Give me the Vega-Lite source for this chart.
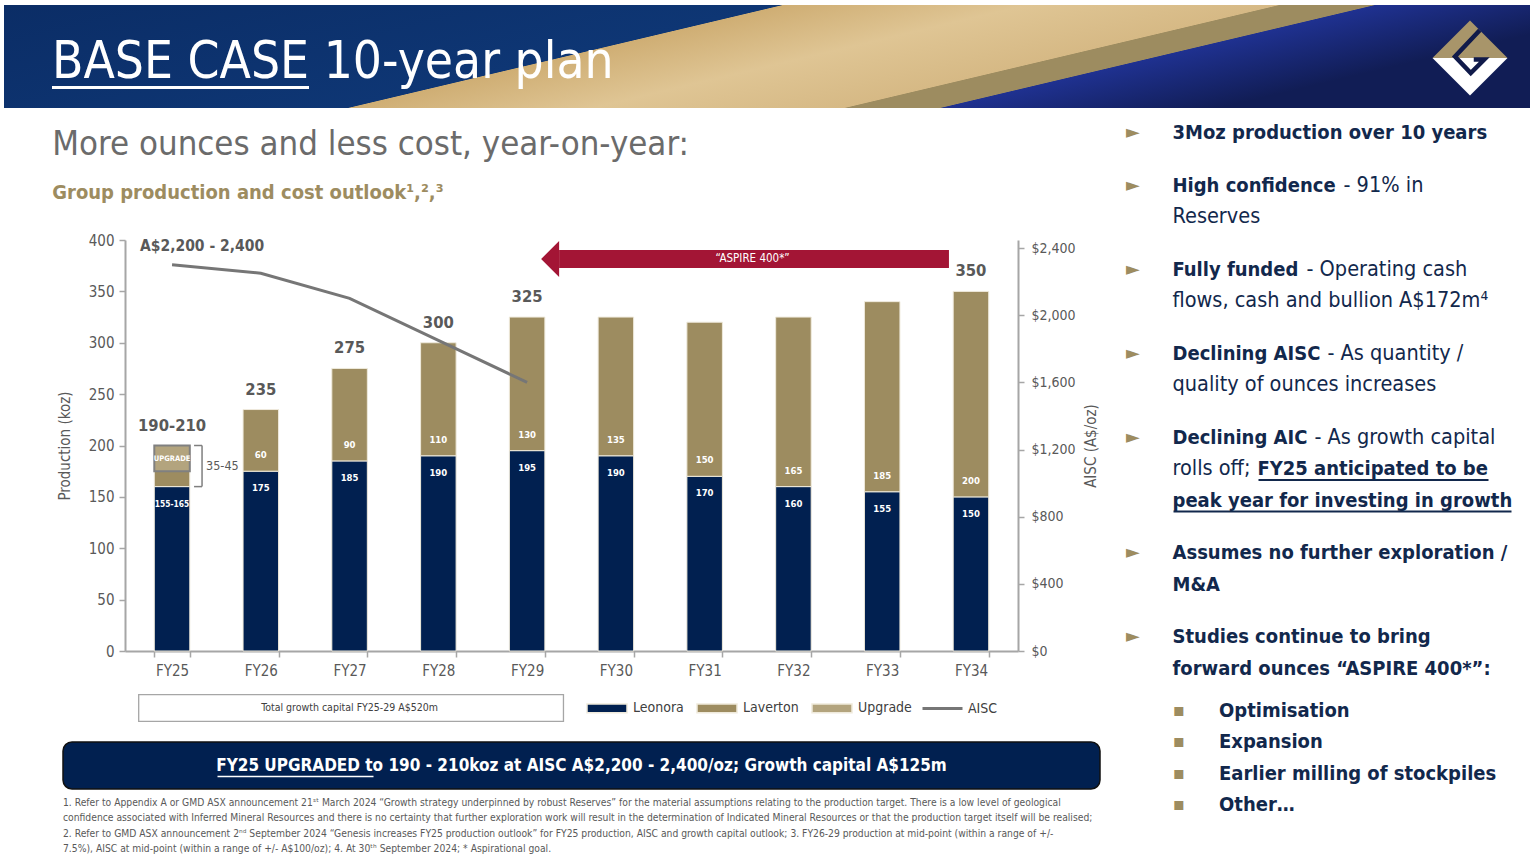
{
  "$schema": "https://vega.github.io/schema/vega-lite/v6.json",
  "padding": {"left": 4, "top": 5, "right": 7, "bottom": 0},
  "background": "white",
  "datasets": {
    "years": [
      {"year": "FY25", "Leonora": 160, "Laverton": 15, "Upgrade": 25, "Total": 200, "AISC": 2300, "leoLabel": "155-165", "lavLabel": null, "totalLabel": "190-210", "aiscLabel": "A$2,200 - 2,400"},
      {"year": "FY26", "Leonora": 175, "Laverton": 60, "Upgrade": 0, "Total": 235, "AISC": 2250, "leoLabel": "175", "lavLabel": "60", "totalLabel": "235", "aiscLabel": null},
      {"year": "FY27", "Leonora": 185, "Laverton": 90, "Upgrade": 0, "Total": 275, "AISC": 2100, "leoLabel": "185", "lavLabel": "90", "totalLabel": "275", "aiscLabel": null},
      {"year": "FY28", "Leonora": 190, "Laverton": 110, "Upgrade": 0, "Total": 300, "AISC": 1850, "leoLabel": "190", "lavLabel": "110", "totalLabel": "300", "aiscLabel": null},
      {"year": "FY29", "Leonora": 195, "Laverton": 130, "Upgrade": 0, "Total": 325, "AISC": 1600, "leoLabel": "195", "lavLabel": "130", "totalLabel": "325", "aiscLabel": null},
      {"year": "FY30", "Leonora": 190, "Laverton": 135, "Upgrade": 0, "Total": 325, "AISC": null, "leoLabel": "190", "lavLabel": "135", "totalLabel": null, "aiscLabel": null},
      {"year": "FY31", "Leonora": 170, "Laverton": 150, "Upgrade": 0, "Total": 320, "AISC": null, "leoLabel": "170", "lavLabel": "150", "totalLabel": null, "aiscLabel": null},
      {"year": "FY32", "Leonora": 160, "Laverton": 165, "Upgrade": 0, "Total": 325, "AISC": null, "leoLabel": "160", "lavLabel": "165", "totalLabel": null, "aiscLabel": null},
      {"year": "FY33", "Leonora": 155, "Laverton": 185, "Upgrade": 0, "Total": 340, "AISC": null, "leoLabel": "155", "lavLabel": "185", "totalLabel": null, "aiscLabel": null},
      {"year": "FY34", "Leonora": 150, "Laverton": 200, "Upgrade": 0, "Total": 350, "AISC": null, "leoLabel": "150", "lavLabel": "200", "totalLabel": "350", "aiscLabel": null}
    ],
    "markers": [
      {"slot": 0, "lvl": 0, "t": "►"}, {"slot": 5, "lvl": 0, "t": "►"}, {"slot": 13, "lvl": 0, "t": "►"},
      {"slot": 21, "lvl": 0, "t": "►"}, {"slot": 29, "lvl": 0, "t": "►"}, {"slot": 40, "lvl": 0, "t": "►"},
      {"slot": 48, "lvl": 0, "t": "►"},
      {"slot": 55, "lvl": 1, "t": "▪"}, {"slot": 58, "lvl": 1, "t": "▪"}, {"slot": 61, "lvl": 1, "t": "▪"}, {"slot": 64, "lvl": 1, "t": "▪"}
    ],
    "boldLines": [
      {"slot": 0, "lvl": 1, "t": "3Moz production over 10 years"},
      {"slot": 5, "lvl": 1, "t": "High confidence"},
      {"slot": 13, "lvl": 1, "t": "Fully funded"},
      {"slot": 21, "lvl": 1, "t": "Declining AISC"},
      {"slot": 29, "lvl": 1, "t": "Declining AIC"},
      {"slot": 35, "lvl": 1, "t": "peak year for investing in growth"},
      {"slot": 40, "lvl": 1, "t": "Assumes no further exploration /"},
      {"slot": 43, "lvl": 1, "t": "M&A"},
      {"slot": 48, "lvl": 1, "t": "Studies continue to bring"},
      {"slot": 51, "lvl": 1, "t": "forward ounces “ASPIRE 400*”:"},
      {"slot": 55, "lvl": 2, "t": "Optimisation"},
      {"slot": 58, "lvl": 2, "t": "Expansion"},
      {"slot": 61, "lvl": 2, "t": "Earlier milling of stockpiles"},
      {"slot": 64, "lvl": 2, "t": "Other…"}
    ],
    "regularLines": [
      {"slot": 8, "lvl": 1, "t": "Reserves"},
      {"slot": 16, "lvl": 1, "t": "flows, cash and bullion A$172m⁴"},
      {"slot": 24, "lvl": 1, "t": "quality of ounces increases"},
      {"slot": 32, "lvl": 1, "t": "rolls off;"}
    ],
    "cont": [
      {"slot": 5, "lvl": 1, "t": "- 91% in"},
      {"slot": 13, "lvl": 1, "t": "- Operating cash"},
      {"slot": 21, "lvl": 1, "t": "- As quantity /"},
      {"slot": 29, "lvl": 1, "t": "- As growth capital"},
      {"slot": 32, "lvl": 1, "t": "FY25 anticipated to be"}
    ]
  },
  "spacing": 15,
  "vconcat": [
    {
      "width": 1526,
      "height": 103,
      "view": {
        "stroke": null,
        "fill": {
          "gradient": "linear", "x1": 0, "y1": 0, "x2": 1, "y2": 0.285,
          "stops": [
            {"offset": 0, "color": "#0b2d66"},
            {"offset": 0.471, "color": "#0e3674"},
            {"offset": 0.473, "color": "#cfae74"},
            {"offset": 0.62, "color": "#dfc594"},
            {"offset": 0.772, "color": "#d6b985"},
            {"offset": 0.774, "color": "#9d8c60"},
            {"offset": 0.83, "color": "#9d8c60"},
            {"offset": 0.832, "color": "#1f3190"},
            {"offset": 1, "color": "#111d55"}
          ]
        }
      },
      "data": {"values": [{}]},
      "encoding": {
        "x": {"datum": 1, "type": "quantitative", "scale": {"domain": [0, 1]}, "axis": null},
        "y": {"datum": 0.5, "type": "quantitative", "scale": {"domain": [0, 1]}, "axis": null}
      },
      "layer": [
        {"mark": {"type": "point", "filled": true, "color": "#a8956a", "opacity": 1, "strokeWidth": 0, "shape": "M-1,0L0,-1L1,0Z", "size": 5625, "xOffset": -60, "yOffset": 1.5}},
        {"mark": {"type": "point", "filled": true, "color": "#ffffff", "opacity": 1, "strokeWidth": 0, "shape": "M-1,0L1,0L0,1Z", "size": 5625, "xOffset": -60, "yOffset": 1.5}},
        {"mark": {"type": "point", "filled": false, "color": "#101a4a", "opacity": 1, "strokeWidth": 4.5, "strokeJoin": "miter", "shape": "M0.26,-0.74L-0.4,-0.04L0.02,0.4L0.38,0.04L0.1,0.04", "size": 5625, "xOffset": -60, "yOffset": 1.5}},
        {
          "mark": {"type": "rule", "color": "white", "strokeWidth": 3, "xOffset": 48, "x2Offset": 305, "yOffset": 31},
          "encoding": {"x": {"datum": 0, "type": "quantitative"}, "x2": {"datum": 0}}
        }
      ],
      "title": {
        "text": "BASE CASE 10-year plan",
        "anchor": "start", "frame": "group", "orient": "top",
        "fontSize": 51, "fontWeight": "normal", "color": "white",
        "dx": 48, "offset": -84
      }
    },
    {
      "spacing": 25,
      "hconcat": [
        {"width": 23, "height": 10, "data": {"values": []}, "mark": "point"},
        {
          "spacing": 18,
          "vconcat": [
            {
              "spacing": -12,
              "hconcat": [
                {"width": 1, "height": 10, "data": {"values": []}, "mark": "point"},
                {
                  "width": 893,
                  "height": 411,
                  "data": {"name": "years"},
                  "title": {
                    "text": "More ounces and less cost, year-on-year:",
                    "subtitle": "Group production and cost outlook¹,²,³",
                    "anchor": "start", "dx": -5,
                    "fontSize": 34.5, "fontWeight": "normal", "color": "#6b6b6b",
                    "subtitleFontSize": 20, "subtitleFontWeight": "bold", "subtitleColor": "#9d8c60",
                    "subtitlePadding": 21, "offset": 29
                  },
                  "layer": [
                    {
                      "layer": [
                        {
                          "transform": [
                            {"fold": ["Leonora", "Laverton", "Upgrade"], "as": ["series", "koz"]},
                            {"filter": "datum.koz > 0"},
                            {"calculate": "indexof(['Leonora','Laverton','Upgrade'], datum.series)", "as": "ord"}
                          ],
                          "mark": {"type": "bar"},
                          "encoding": {
                            "x": {
                              "field": "year", "type": "nominal",
                              "scale": {"paddingInner": 0.6, "paddingOuter": 0.33},
                              "axis": {"title": null, "labelAngle": 0, "tickBand": "extent", "tickSize": 6, "labelPadding": 6}
                            },
                            "y": {
                              "field": "koz", "type": "quantitative", "stack": "zero",
                              "scale": {"domain": [0, 400], "nice": false},
                              "axis": {"title": "Production (koz)", "values": [0, 50, 100, 150, 200, 250, 300, 350, 400], "tickSize": 6, "labelPadding": 5, "titlePadding": 16}
                            },
                            "color": {
                              "field": "series", "type": "nominal",
                              "scale": {"domain": ["Leonora", "Laverton", "Upgrade"], "range": ["#012050", "#9d8c60", "#b3a47e"]},
                              "legend": {
                                "title": null, "orient": "none", "legendX": 582, "legendY": 682,
                                "direction": "horizontal",
                                "symbolType": "M-1,-0.22H1V0.22H-1Z", "symbolSize": 1600,
                                "labelFontSize": 14, "labelColor": "#404040", "labelOffset": 5, "columnPadding": 10,
                                "encode": {
                                  "symbols": {
                                    "update": {
                                      "fill": {"scale": "color", "field": "value"},
                                      "stroke": {"signal": "datum.value === 'Upgrade' ? '#808080' : 'transparent'"},
                                      "strokeWidth": {"value": 1},
                                      "opacity": {"value": 1},
                                      "fillOpacity": {"value": 1}
                                    }
                                  }
                                }
                              }
                            },
                            "order": {"field": "ord", "type": "quantitative"},
                            "stroke": {"condition": {"test": "datum.series === 'Upgrade'", "value": "#808080"}, "value": "#efeadc"},
                            "strokeWidth": {"condition": {"test": "datum.series === 'Upgrade'", "value": 2}, "value": 1}
                          }
                        },
                        {
                          "transform": [{"filter": "datum.leoLabel != null"}],
                          "mark": {"type": "text", "color": "white", "fontWeight": "bold", "dy": 17, "baseline": "middle"},
                          "encoding": {
                            "x": {"field": "year", "type": "nominal"},
                            "y": {"field": "Leonora", "type": "quantitative"},
                            "text": {"field": "leoLabel"},
                            "size": {"condition": {"test": "datum.year === 'FY25'", "value": 8.4}, "value": 9.5}
                          }
                        },
                        {
                          "transform": [{"filter": "datum.lavLabel != null"}],
                          "mark": {"type": "text", "color": "white", "fontWeight": "bold", "fontSize": 9.5, "dy": -16, "baseline": "middle"},
                          "encoding": {
                            "x": {"field": "year", "type": "nominal"},
                            "y": {"field": "Leonora", "type": "quantitative"},
                            "text": {"field": "lavLabel"}
                          }
                        },
                        {
                          "transform": [{"filter": "datum.totalLabel != null"}],
                          "mark": {"type": "text", "color": "#595959", "fontWeight": "bold", "fontSize": 16.5, "dy": -20, "baseline": "middle"},
                          "encoding": {
                            "x": {"field": "year", "type": "nominal"},
                            "y": {"field": "Total", "type": "quantitative"},
                            "text": {"field": "totalLabel"}
                          }
                        },
                        {
                          "transform": [{"filter": "datum.Upgrade > 0"}],
                          "mark": {"type": "text", "color": "white", "fontWeight": "bold", "fontSize": 7.5, "dy": 13, "baseline": "middle"},
                          "encoding": {
                            "x": {"field": "year", "type": "nominal"},
                            "y": {"field": "Total", "type": "quantitative"},
                            "text": {"value": "UPGRADE"}
                          }
                        },
                        {
                          "data": {"values": [{}]},
                          "mark": {"type": "rule", "color": "#7f7f7f", "strokeWidth": 1.5, "xOffset": 30},
                          "encoding": {
                            "x": {"datum": "FY25", "type": "nominal"},
                            "y": {"datum": 160, "type": "quantitative"},
                            "y2": {"datum": 200}
                          }
                        },
                        {
                          "data": {"values": [{}]},
                          "mark": {"type": "rule", "color": "#7f7f7f", "strokeWidth": 1.5, "xOffset": 22, "x2Offset": 30},
                          "encoding": {
                            "x": {"datum": "FY25", "type": "nominal"},
                            "x2": {"datum": "FY25"},
                            "y": {"datum": 200, "type": "quantitative"}
                          }
                        },
                        {
                          "data": {"values": [{}]},
                          "mark": {"type": "rule", "color": "#7f7f7f", "strokeWidth": 1.5, "xOffset": 22, "x2Offset": 30},
                          "encoding": {
                            "x": {"datum": "FY25", "type": "nominal"},
                            "x2": {"datum": "FY25"},
                            "y": {"datum": 160, "type": "quantitative"}
                          }
                        },
                        {
                          "data": {"values": [{"t": "35-45"}]},
                          "mark": {"type": "text", "color": "#595959", "fontSize": 12.5, "align": "left", "baseline": "middle", "dx": 34},
                          "encoding": {
                            "x": {"datum": "FY25", "type": "nominal"},
                            "y": {"datum": 180, "type": "quantitative"},
                            "text": {"field": "t"}
                          }
                        },
                        {
                          "data": {"values": [{}]},
                          "mark": {"type": "rule", "color": "#a31535", "strokeWidth": 18, "strokeCap": "butt", "xOffset": 32, "x2Offset": -22},
                          "encoding": {
                            "x": {"datum": "FY29", "type": "nominal"},
                            "x2": {"datum": "FY34"},
                            "y": {"datum": 381.5, "type": "quantitative"}
                          }
                        },
                        {
                          "data": {"values": [{}]},
                          "mark": {"type": "point", "filled": true, "color": "#a31535", "opacity": 1, "strokeWidth": 0, "shape": "M0.5,-1L-0.5,0L0.5,1Z", "size": 1296, "xOffset": 23},
                          "encoding": {
                            "x": {"datum": "FY29", "type": "nominal"},
                            "y": {"datum": 381.5, "type": "quantitative"}
                          }
                        },
                        {
                          "data": {"values": [{"t": "“ASPIRE 400*”"}]},
                          "mark": {"type": "text", "color": "white", "fontSize": 11.5, "baseline": "middle", "dx": 48},
                          "encoding": {
                            "x": {"datum": "FY31", "type": "nominal"},
                            "y": {"datum": 381.5, "type": "quantitative"},
                            "text": {"field": "t"}
                          }
                        },
                        {
                          "data": {"values": [{}]},
                          "mark": {"type": "rule", "color": "#a6a6a6", "strokeWidth": 28, "strokeCap": "butt", "xOffset": -34, "x2Offset": 37},
                          "encoding": {
                            "x": {"datum": "FY25", "type": "nominal"},
                            "x2": {"datum": "FY29"},
                            "y": {"datum": -55.5, "type": "quantitative"}
                          }
                        },
                        {
                          "data": {"values": [{}]},
                          "mark": {"type": "rule", "color": "white", "strokeWidth": 25.5, "strokeCap": "butt", "xOffset": -32.7, "x2Offset": 35.7},
                          "encoding": {
                            "x": {"datum": "FY25", "type": "nominal"},
                            "x2": {"datum": "FY29"},
                            "y": {"datum": -55.5, "type": "quantitative"}
                          }
                        },
                        {
                          "data": {"values": [{"t": "Total growth capital FY25-29 A$520m"}]},
                          "mark": {"type": "text", "color": "#404040", "fontSize": 10.5, "baseline": "middle"},
                          "encoding": {
                            "x": {"datum": "FY27", "type": "nominal"},
                            "y": {"datum": -55.5, "type": "quantitative"},
                            "text": {"field": "t"}
                          }
                        }
                      ]
                    },
                    {
                      "layer": [
                        {
                          "transform": [{"filter": "isValid(datum.AISC)"}],
                          "mark": {"type": "line", "strokeWidth": 3},
                          "encoding": {
                            "x": {"field": "year", "type": "nominal"},
                            "y": {
                              "field": "AISC", "type": "quantitative",
                              "scale": {"domain": [0, 2448], "nice": false},
                              "axis": {"orient": "right", "title": "AISC (A$/oz)", "titleAngle": 270, "titleBaseline": "top", "values": [0, 400, 800, 1200, 1600, 2000, 2400], "labelExpr": "'$' + format(datum.value, ',')", "labelFontSize": 14, "tickSize": 6, "labelPadding": 7, "titlePadding": 8}
                            },
                            "stroke": {
                              "datum": "AISC", "type": "nominal",
                              "scale": {"domain": ["AISC"], "range": ["#767676"]},
                              "legend": {
                                "title": null, "orient": "none", "legendX": 917, "legendY": 682,
                                "symbolType": "stroke", "symbolSize": 1600, "symbolStrokeWidth": 3,
                                "labelFontSize": 14, "labelColor": "#404040", "labelOffset": 4
                              }
                            }
                          }
                        },
                        {
                          "transform": [{"filter": "datum.aiscLabel != null"}],
                          "mark": {"type": "text", "color": "#595959", "fontWeight": "bold", "fontSize": 15.5, "dy": -19, "dx": 30, "baseline": "middle"},
                          "encoding": {
                            "x": {"field": "year", "type": "nominal"},
                            "y": {"field": "AISC", "type": "quantitative"},
                            "text": {"field": "aiscLabel"}
                          }
                        }
                      ]
                    }
                  ],
                  "resolve": {"scale": {"y": "independent"}}
                }
              ]
            },
            {
              "width": 1037,
              "height": 47,
              "view": {"fill": "#012050", "stroke": "#111111", "strokeWidth": 1.5, "cornerRadius": 9},
              "data": {"values": [{"t": "FY25 UPGRADED to 190 - 210koz at AISC A$2,200 - 2,400/oz; Growth capital A$125m"}]},
              "encoding": {
                "x": {"datum": 0.5, "type": "quantitative", "scale": {"domain": [0, 1]}, "axis": null},
                "y": {"datum": 0.5, "type": "quantitative", "scale": {"domain": [0, 1]}, "axis": null}
              },
              "layer": [
                {
                  "mark": {"type": "text", "color": "white", "fontSize": 17, "fontWeight": "bold", "baseline": "middle", "align": "center"},
                  "encoding": {"text": {"field": "t"}}
                },
                {
                  "mark": {"type": "rule", "color": "white", "strokeWidth": 1.5, "xOffset": -364, "x2Offset": -208, "yOffset": 11},
                  "encoding": {"x2": {"datum": 0.5}}
                }
              ],
              "title": {
                "text": [
                  "1. Refer to Appendix A or GMD ASX announcement 21ˢᵗ March 2024 “Growth strategy underpinned by robust Reserves” for the material assumptions relating to the production target. There is a low level of geological",
                  "confidence associated with Inferred Mineral Resources and there is no certainty that further exploration work will result in the determination of Indicated Mineral Resources or that the production target itself will be realised;",
                  "2. Refer to GMD ASX announcement 2ⁿᵈ September 2024 “Genesis increases FY25 production outlook” for FY25 production, AISC and growth capital outlook; 3. FY26-29 production at mid-point (within a range of +/-",
                  "7.5%), AISC at mid-point (within a range of +/- A$100/oz); 4. At 30ᵗʰ September 2024; * Aspirational goal."
                ],
                "orient": "bottom", "anchor": "start", "frame": "group", "offset": 9,
                "fontSize": 10.25, "fontWeight": "normal", "color": "#595959", "lineHeight": 15.3
              }
            }
          ]
        },
        {
          "width": 400,
          "height": 565,
          "encoding": {
            "x": {"field": "lvl", "type": "quantitative", "scale": {"domain": [0, 2], "range": [0, 93], "nice": false, "zero": false}, "axis": null},
            "y": {"field": "slot", "type": "quantitative", "scale": {"domain": [0, 64], "range": [-107, 565], "nice": false, "zero": false}, "axis": null},
            "text": {"field": "t"}
          },
          "layer": [
            {"data": {"name": "markers"}, "mark": {"type": "text", "color": "#9d8c60", "fontSize": 18, "align": "left", "baseline": "middle", "font": "DejaVu Sans"}},
            {"data": {"name": "boldLines"}, "mark": {"type": "text", "color": "#12284c", "fontSize": 20, "fontWeight": "bold", "align": "left", "baseline": "middle"}},
            {"data": {"name": "regularLines"}, "mark": {"type": "text", "color": "#12284c", "fontSize": 21.5, "align": "left", "baseline": "middle"}},
            {"data": {"name": "cont"}, "transform": [{"filter": "datum.slot == 5"}], "mark": {"type": "text", "color": "#12284c", "fontSize": 21.5, "align": "left", "baseline": "middle", "dx": 171}},
            {"data": {"name": "cont"}, "transform": [{"filter": "datum.slot == 13"}], "mark": {"type": "text", "color": "#12284c", "fontSize": 21.5, "align": "left", "baseline": "middle", "dx": 134}},
            {"data": {"name": "cont"}, "transform": [{"filter": "datum.slot == 21"}], "mark": {"type": "text", "color": "#12284c", "fontSize": 21.5, "align": "left", "baseline": "middle", "dx": 155}},
            {"data": {"name": "cont"}, "transform": [{"filter": "datum.slot == 29"}], "mark": {"type": "text", "color": "#12284c", "fontSize": 21.5, "align": "left", "baseline": "middle", "dx": 142}},
            {"data": {"name": "cont"}, "transform": [{"filter": "datum.slot == 32"}], "mark": {"type": "text", "color": "#12284c", "fontSize": 20, "fontWeight": "bold", "align": "left", "baseline": "middle", "dx": 85}},
            {
              "data": {"name": "cont"}, "transform": [{"filter": "datum.slot == 32"}],
              "mark": {"type": "rule", "color": "#12284c", "strokeWidth": 2, "xOffset": 86, "x2Offset": 316, "yOffset": 11},
              "encoding": {"x2": {"field": "lvl"}}
            },
            {
              "data": {"name": "boldLines"}, "transform": [{"filter": "datum.slot == 35"}],
              "mark": {"type": "rule", "color": "#12284c", "strokeWidth": 2, "xOffset": 1, "x2Offset": 339, "yOffset": 11},
              "encoding": {"x2": {"field": "lvl"}}
            }
          ]
        }
      ]
    }
  ],
  "config": {
    "view": {"stroke": null},
    "font": "DejaVu Sans Condensed, DejaVu Sans, sans-serif",
    "axis": {
      "labelFont": "DejaVu Sans Condensed, DejaVu Sans, sans-serif",
      "titleFont": "DejaVu Sans Condensed, DejaVu Sans, sans-serif",
      "labelFontSize": 15, "titleFontSize": 15,
      "labelColor": "#595959", "titleColor": "#595959", "titleFontWeight": "normal",
      "domainColor": "#a6a6a6", "domainWidth": 2, "tickColor": "#a6a6a6", "tickWidth": 1.5, "grid": false
    },
    "legend": {"labelFont": "DejaVu Sans Condensed, DejaVu Sans, sans-serif"},
    "title": {"font": "DejaVu Sans Condensed, DejaVu Sans, sans-serif", "subtitleFont": "DejaVu Sans Condensed, DejaVu Sans, sans-serif"},
    "text": {"font": "DejaVu Sans Condensed, DejaVu Sans, sans-serif"}
  }
}
